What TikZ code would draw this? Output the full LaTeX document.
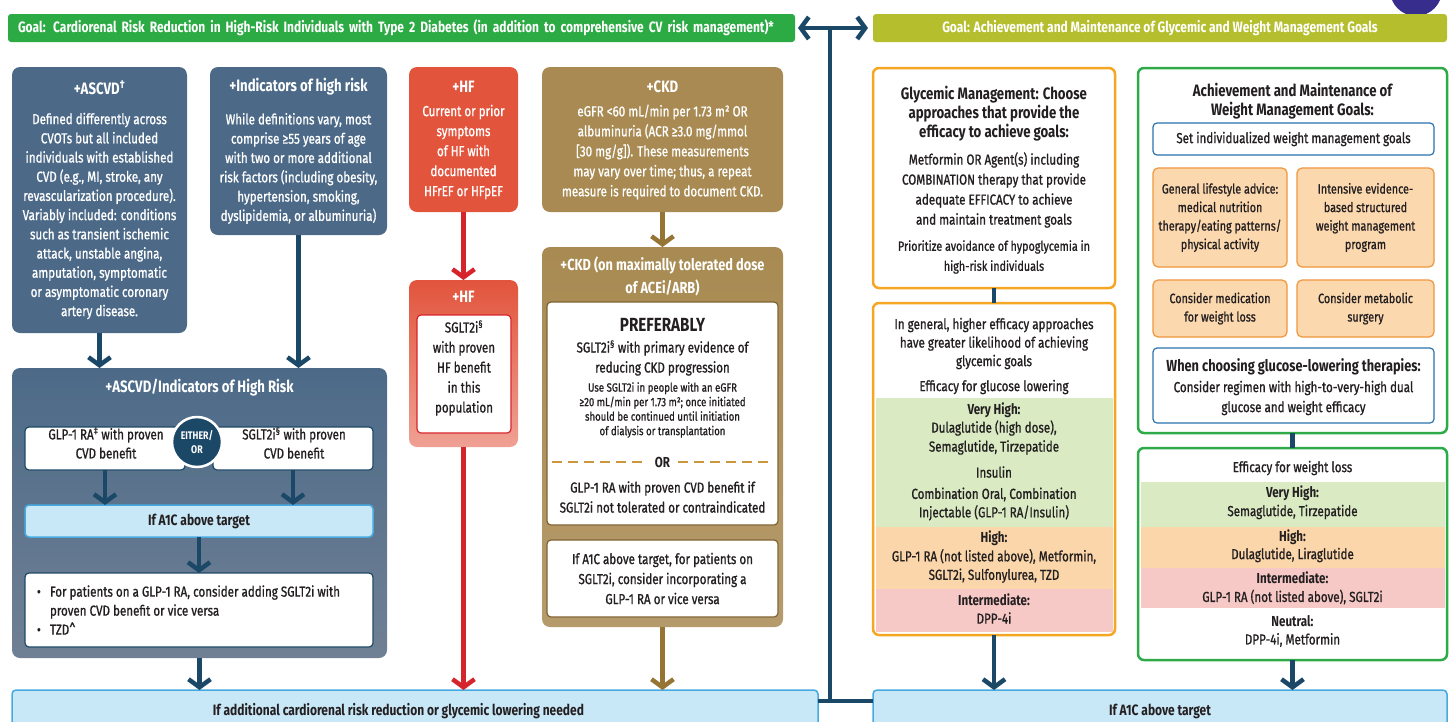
\documentclass[tikz,border=0pt]{standalone}
\usepackage{fontspec}
\setmainfont{Fira Sans}[FakeStretch=0.8, UprightFeatures={FakeBold=1}]
\usetikzlibrary{arrows.meta,positioning}

\definecolor{ink}{RGB}{35,31,32}
\definecolor{goalgreen}{RGB}{44,170,68}
\definecolor{goalolive}{RGB}{181,190,45}
\definecolor{navy}{RGB}{28,72,104}
\definecolor{slate}{RGB}{76,106,136}
\definecolor{slatelight}{RGB}{112,128,148}
\definecolor{hfred}{RGB}{226,84,60}
\definecolor{hfline}{RGB}{214,36,44}
\definecolor{ckdbrown}{RGB}{168,138,82}
\definecolor{ckdline}{RGB}{150,116,52}
\definecolor{ckdedge}{RGB}{128,98,48}
\definecolor{ordash}{RGB}{205,150,60}
\definecolor{barfill}{RGB}{200,231,247}
\definecolor{baredge}{RGB}{70,170,225}
\definecolor{glyorange}{RGB}{245,166,35}
\definecolor{wtgreen}{RGB}{46,170,72}
\definecolor{innerblue}{RGB}{43,115,175}
\definecolor{tipfill}{RGB}{252,216,175}
\definecolor{tipedge}{RGB}{240,150,60}
\definecolor{bandgreen}{RGB}{218,235,196}
\definecolor{bandorange}{RGB}{251,214,170}
\definecolor{bandpink}{RGB}{246,200,198}
\definecolor{logoblue}{RGB}{55,45,140}

\newcommand{\setfs}[2]{\fontsize{#1}{#2}\selectfont}

\begin{document}
\begin{tikzpicture}[x=1pt, y=-1pt,
    every node/.style={inner sep=0pt, outer sep=0pt, text=ink},
    panel/.style={anchor=north west, rounded corners=8pt},
    goalbar/.style={rounded corners=3pt, minimum height=28pt, inner xsep=10pt, text=white, font=\bfseries\setfs{15}{17}},
    bluebar/.style={anchor=north west, rounded corners=4pt, fill=barfill, draw=baredge, line width=1.5pt, font=\bfseries\setfs{15}{17}},
    whitebox/.style={anchor=north west, rounded corners=4pt, fill=white, draw=#1, line width=1.2pt, align=center},
    framebox/.style={anchor=north west, rounded corners=6pt, fill=white, draw=#1, line width=2.5pt},
    tipbox/.style={anchor=north west, rounded corners=5pt, fill=tipfill, draw=tipedge, line width=1.2pt, align=center, font=\setfs{13.5}{18.5}},
    ttl/.style={font=\bfseries\setfs{16.5}{19}, align=center},
    txt/.style={font=\setfs{14.5}{20}, align=center},
    lvl/.style={font=\bfseries\setfs{14.5}{17}, align=center},
    small/.style={font=\setfs{12}{14.5}, align=center},
    flow/.style={draw=#1, line width=4.5pt, -{Straight Barb[length=8pt, width=22pt]}},
    link/.style={draw=navy, line width=4.5pt}
]
\useasboundingbox (0,0) rectangle (1452,721);
\clip (0,0) rectangle (1452,721);

% logo edge, top right
\fill[logoblue] (1416,-10) circle (26pt);

% goals
\node[goalbar, fill=goalgreen, text width=767pt, align=left, anchor=west] (goalleft) at (8,28)
  {Goal: Cardiorenal Risk Reduction in High-Risk Individuals with Type 2 Diabetes (in addition to comprehensive CV risk management)*};
\node[goalbar, fill=goalolive, minimum width=574pt, anchor=west] (goalright) at (873,28)
  {Goal: Achievement and Maintenance of Glycemic and Weight Management Goals};

% bottom bars
\node[bluebar, minimum width=806pt, minimum height=42pt] (botleft) at (12,690)
  {\hspace*{-33pt}If additional cardiorenal risk reduction or glycemic lowering needed};
\node[bluebar, minimum width=574pt, minimum height=42pt] (botright) at (873,690) {If A1C above target};

% spine
\coordinate (spinetop) at (830,28);
\coordinate (spinebot) at (830,701);
\draw[link] (spinetop) -- (spinebot);
\draw[link, {Straight Barb[length=8pt, width=22pt]}-{Straight Barb[length=8pt, width=22pt]}]
  ([xshift=3pt]goalleft.east) -- ([xshift=-5pt]goalright.west);
\draw[link] (botleft.east |- spinebot) -- (botright.west |- spinebot);

% ASCVD / high risk
\node[panel, fill=slate, minimum width=175pt, minimum height=266pt] (ascvd) at (12,67) {};
\node[ttl, text=white] (ascvdttl) at (99.5,88) {+ASCVD\textsuperscript{†}};
\node[txt, text=white, font=\setfs{14.5}{19.2}] (ascvdtxt) at (99.5,216)
  {Defined differently across\\CVOTs but all included\\individuals with established\\CVD (e.g., MI, stroke, any\\revascularization procedure).\\Variably included: conditions\\such as transient ischemic\\attack, unstable angina,\\amputation, symptomatic\\or asymptomatic coronary\\artery disease.};
\node[panel, fill=slate, minimum width=177pt, minimum height=168pt] (indic) at (210,67) {};
\node[ttl, text=white] (indicttl) at (298.5,87) {+Indicators of high risk};
\node[txt, text=white, font=\setfs{14.5}{19.3}] (indictxt) at (298.5,168.5)
  {While definitions vary, most\\comprise ≥55 years of age\\with two or more additional\\risk factors (including obesity,\\hypertension, smoking,\\dyslipidemia, or albuminuria)};

\node[panel, top color=slate, bottom color=slatelight, minimum width=375pt, minimum height=290pt] (risk) at (12,368) {};
\node[ttl, text=white] (riskttl) at (199.5,388) {+ASCVD/Indicators of High Risk};
\node[whitebox=navy, minimum width=160pt, minimum height=43pt] (glp) at (25,427) {};
\node[txt, font=\setfs{14.5}{19}] (glptxt) at (106,443) {GLP-1 RA\textsuperscript{‡} with proven\\CVD benefit};
\node[whitebox=navy, minimum width=160pt, minimum height=43pt] (sglt) at (213,427) {};
\node[txt, font=\setfs{14.5}{19}] (sglttxt) at (294,443) {SGLT2i\textsuperscript{§} with proven\\CVD benefit};
\node[circle, fill=navy, draw=white, line width=2.5pt, minimum size=50pt, align=center,
  text=white, font=\bfseries\setfs{11}{14}] (either) at (197,442) {EITHER/\\OR};
\node[bluebar, minimum width=348pt, minimum height=32pt] (riska1c) at (25,505) {If A1C above target};
\node[whitebox=navy, minimum width=348pt, minimum height=74pt] (addon) at (25,573) {};
\node[txt, align=left, anchor=west, font=\setfs{14.5}{19}] (addontxt) at (37,610)
  {\makebox[13pt][l]{\textbullet}For patients on a GLP-1 RA, consider adding SGLT2i with\\\hspace*{13pt}proven CVD benefit or vice versa\\\makebox[13pt][l]{\textbullet}TZD\textasciicircum};

\draw[flow=navy] (ascvd.south) -- (ascvd.south |- risk.north);
\draw[flow=navy] (indic.south) -- (indic.south |- risk.north);
\draw[flow=navy] (glp.south) -- (glp.south |- riska1c.north);
\draw[flow=navy] (sglt.south) -- (sglt.south |- riska1c.north);
\draw[flow=navy] (riska1c.south) -- (addon.north);
\draw[flow=navy] (risk.south) -- (risk.south |- botleft.north);

% HF
\node[panel, fill=hfred, minimum width=109pt, minimum height=145pt] (hf) at (409,67) {};
\node[ttl, text=white] (hfttl) at (463.5,87) {+HF};
\node[txt, text=white] (hftxt) at (463.5,152)
  {Current or prior\\symptoms\\of HF with\\documented\\HFrEF or HFpEF};
\node[panel, top color=hfred, bottom color=hfred!55!white, minimum width=109pt, minimum height=167pt] (hfrx) at (409,280) {};
\node[ttl, text=white] (hfrxttl) at (463.5,297) {+HF};
\node[whitebox=hfline, minimum width=94pt, minimum height=118pt] (hfrxbox) at (417,315) {};
\node[txt] (hfrxtxt) at (464,368) {SGLT2i\textsuperscript{§}\\with proven\\HF benefit\\in this\\population};
\draw[flow=hfline] (hf.south) -- (hfrx.north);
\draw[flow=hfline] (hfrx.south) -- (hfrx.south |- botleft.north);

% CKD
\node[panel, fill=ckdbrown, minimum width=241pt, minimum height=145pt] (ckd) at (542,67) {};
\node[ttl, text=white] (ckdttl) at (662.5,87) {+CKD};
\node[txt, text=white] (ckdtxt) at (662.5,152)
  {eGFR <60 mL/min per 1.73 m² OR\\albuminuria (ACR ≥3.0 mg/mmol\\{[}30 mg/g]). These measurements\\may vary over time; thus, a repeat\\measure is required to document CKD.};
\node[panel, top color=ckdbrown, bottom color=ckdbrown!85!white, minimum width=241pt, minimum height=380pt] (ckdrx) at (542,247) {};
\node[ttl, text=white, font=\bfseries\setfs{16}{23}] (ckdrxttl) at (662.5,276.5)
  {+CKD (on maximally tolerated dose\\of ACEi/ARB)};
\node[whitebox=ckdedge, minimum width=231pt, minimum height=223pt] (ckdpref) at (547,302) {};
\node[ttl, font=\bfseries\setfs{19}{22}] (prefttl) at (662.5,325) {PREFERABLY};
\node[txt] (preftxt) at (662.5,358) {SGLT2i\textsuperscript{§} with primary evidence of\\reducing CKD progression};
\node[small] (prefnote) at (662.5,410)
  {Use SGLT2i in people with an eGFR\\≥20 mL/min per 1.73 m²; once initiated\\should be continued until initiation\\of dialysis or transplantation};
\node[lvl] (prefor) at (662.5,462) {OR};
\draw[ordash, line width=1.8pt, dash pattern=on 10pt off 6pt] ([xshift=5pt]ckdpref.west |- prefor.west) -- ([xshift=-8pt]prefor.west);
\draw[ordash, line width=1.8pt, dash pattern=on 10pt off 6pt] ([xshift=8pt]prefor.east) -- ([xshift=-5pt]ckdpref.east |- prefor.east);
\node[txt] (prefalt) at (662.5,497) {GLP-1 RA with proven CVD benefit if\\SGLT2i not tolerated or contraindicated};
\node[whitebox=ckdedge, minimum width=231pt, minimum height=77pt, txt] (ckda1c) at (547,540)
  {If A1C above target, for patients on\\SGLT2i, consider incorporating a\\GLP-1 RA or vice versa};
\draw[flow=ckdline] (ckd.south) -- (ckdrx.north);
\draw[flow=ckdline] (ckdrx.south) -- (ckdrx.south |- botleft.north);

% glycemic management
\node[framebox=glyorange, minimum width=242pt, minimum height=220pt] (glyc) at (873,68) {};
\node[ttl] (glycttl) at (994,114) {Glycemic Management: Choose\\approaches that provide the\\efficacy to achieve goals:};
\node[txt] (glyctxt) at (994,190) {Metformin OR Agent(s) including\\COMBINATION therapy that provide\\adequate EFFICACY to achieve\\and maintain treatment goals};
\node[txt, font=\setfs{13.5}{20}] (glycnote) at (994,257) {Prioritize avoidance of hypoglycemia in\\high-risk individuals};

\node[framebox=glyorange, minimum width=242pt, minimum height=332pt] (glyeff) at (873,303) {};
\fill[bandgreen] (875.5,398) rectangle (1112.5,527);
\fill[bandorange] (875.5,527) rectangle (1112.5,589);
\fill[bandpink] (875.5,589) rectangle (1112.5,632);
\node[txt, font=\setfs{14.5}{18.5}] (glyefftxt) at (994,343.5) {In general, higher efficacy approaches\\have greater likelihood of achieving\\glycemic goals};
\node[txt] (glyeffhd) at (994,387) {Efficacy for glucose lowering};
\node[lvl] (gvhigh) at (994,410) {Very High:};
\node[txt, font=\setfs{14.5}{19}] (gvhightxt) at (994,437.5) {Dulaglutide (high dose),\\Semaglutide, Tirzepatide};
\node[txt] (ginsulin) at (994,472) {Insulin};
\node[txt, font=\setfs{14.5}{18.5}] (gcombo) at (994,504) {Combination Oral, Combination\\Injectable (GLP-1 RA/Insulin)};
\node[lvl] (ghigh) at (994,538) {High:};
\node[txt, font=\setfs{14.5}{18.5}] (ghightxt) at (994,566) {GLP-1 RA (not listed above), Metformin,\\SGLT2i, Sulfonylurea, TZD};
\node[lvl] (gmid) at (994,600) {Intermediate:};
\node[txt] (gmidtxt) at (994,618) {DPP-4i};
\draw[link] (glyc.south) -- (glyeff.north);
\draw[flow=navy] (glyeff.south) -- (glyeff.south |- botright.north);

% weight management
\node[framebox=wtgreen, minimum width=309pt, minimum height=365pt] (wt) at (1138,68) {};
\node[ttl] (wtttl) at (1292.5,101) {Achievement and Maintenance of\\Weight Management Goals:};
\node[whitebox=innerblue, minimum width=281pt, minimum height=32pt, txt] (wtgoal) at (1153,123) {Set individualized weight management goals};
\node[tipbox, minimum width=134pt, minimum height=99pt] (wtlife) at (1153,168)
  {General lifestyle advice:\\medical nutrition\\therapy/eating patterns/\\physical activity};
\node[tipbox, minimum width=137pt, minimum height=99pt] (wtprog) at (1297,168)
  {Intensive evidence-\\based structured\\weight management\\program};
\node[tipbox, minimum width=134pt, minimum height=57pt] (wtmed) at (1153,280) {Consider medication\\for weight loss};
\node[tipbox, minimum width=137pt, minimum height=57pt] (wtsurg) at (1297,280) {Consider metabolic\\surgery};
\node[whitebox=innerblue, minimum width=281pt, minimum height=75pt] (wtchoose) at (1153,348) {};
\node[ttl, font=\bfseries\setfs{16}{18}] (wtchoosettl) at (1293.5,367) {When choosing glucose-lowering therapies:};
\node[txt] (wtchoosetxt) at (1293.5,398) {Consider regimen with high-to-very-high dual\\glucose and weight efficacy};

\node[framebox=wtgreen, minimum width=309pt, minimum height=212pt] (wteff) at (1138,448) {};
\fill[bandgreen] (1140.5,482) rectangle (1444.5,527);
\fill[bandorange] (1140.5,527) rectangle (1444.5,568);
\fill[bandpink] (1140.5,568) rectangle (1444.5,608);
\node[txt] (wteffhd) at (1292.5,468) {Efficacy for weight loss};
\node[lvl] (wvhigh) at (1292.5,493) {Very High:};
\node[txt] (wvhightxt) at (1292.5,512) {Semaglutide, Tirzepatide};
\node[lvl] (whigh) at (1292.5,537) {High:};
\node[txt] (whightxt) at (1292.5,555) {Dulaglutide, Liraglutide};
\node[lvl] (wmid) at (1292.5,578) {Intermediate:};
\node[txt] (wmidtxt) at (1292.5,597) {GLP-1 RA (not listed above), SGLT2i};
\node[lvl] (wneutral) at (1292.5,621) {Neutral:};
\node[txt] (wneutraltxt) at (1292.5,640) {DPP-4i, Metformin};
\draw[link] (wt.south) -- (wteff.north);
\draw[flow=navy] (wteff.south) -- (wteff.south |- botright.north);
\end{tikzpicture}
\end{document}
